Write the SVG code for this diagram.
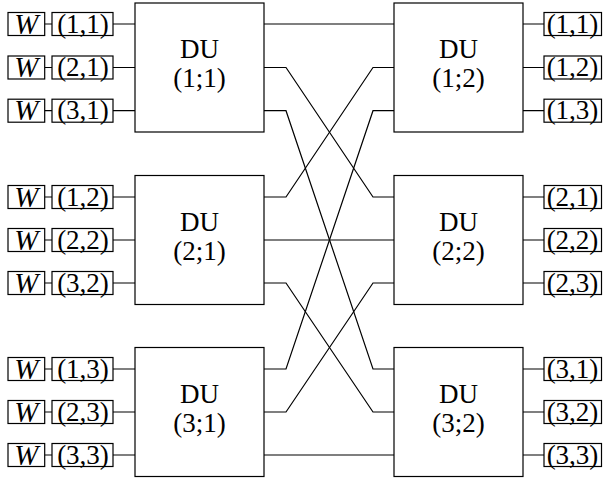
<svg xmlns="http://www.w3.org/2000/svg" width="603" height="481" viewBox="0 0 603 481">
  <style>
    .box { fill: #fff; stroke: #000; stroke-width: 1.2; }
    .wire { fill: none; stroke: #000; stroke-width: 1.2; }
    text { font-family: "Liberation Serif", "Times New Roman", serif; font-size: 27px; fill: #000; text-anchor: middle; }
    .lbl { font-size: 27px; }
    .w { font-style: italic; font-size: 29px; }
  </style>
  <rect width="603" height="481" fill="#fff"/>

  <!-- connectors: short stubs and the butterfly between the two stages -->
  <g id="connectors" class="wire">
    <!-- stubs W -> input label -> left DU -->
    <path d="M44.7 24H52M113 24H135M44.7 67.5H52M113 67.5H135M44.7 110.7H52M113 110.7H135"/>
    <path d="M44.7 197H52M113 197H135M44.7 240H52M113 240H135M44.7 283H52M113 283H135"/>
    <path d="M44.7 369H52M113 369H135M44.7 412H52M113 412H135M44.7 455H52M113 455H135"/>
    <!-- stubs right DU -> output label -->
    <path d="M523 24H544M523 67.5H544M523 110.7H544"/>
    <path d="M523 197H544M523 240H544M523 283H544"/>
    <path d="M523 369H544M523 412H544M523 455H544"/>
    <!-- straight links -->
    <path d="M264 24H394M264 240H394M264 455H394"/>
    <!-- crossing links -->
    <path d="M264 67.5H286L373 197H394"/>
    <path d="M264 110.7H286L373 369H394"/>
    <path d="M264 197H286L373 67.5H394"/>
    <path d="M264 283H286L373 412H394"/>
    <path d="M264 369H286L373 110.7H394"/>
    <path d="M264 412H286L373 283H394"/>
  </g>

  <!-- first stage -->
  <g id="du-1-1">
    <rect class="box" x="135" y="3" width="129" height="129"/>
    <text x="199.5" y="58">DU</text>
    <text x="199.5" y="87">(1;1)</text>
  </g>
  <g id="du-2-1">
    <rect class="box" x="135" y="175.5" width="129" height="129"/>
    <text x="199.5" y="230.5">DU</text>
    <text x="199.5" y="259.5">(2;1)</text>
  </g>
  <g id="du-3-1">
    <rect class="box" x="135" y="347.5" width="129" height="129"/>
    <text x="199.5" y="402.5">DU</text>
    <text x="199.5" y="431.5">(3;1)</text>
  </g>

  <!-- second stage -->
  <g id="du-1-2">
    <rect class="box" x="394" y="3" width="129" height="129"/>
    <text x="458.5" y="58">DU</text>
    <text x="458.5" y="87">(1;2)</text>
  </g>
  <g id="du-2-2">
    <rect class="box" x="394" y="175.5" width="129" height="129"/>
    <text x="458.5" y="230.5">DU</text>
    <text x="458.5" y="259.5">(2;2)</text>
  </g>
  <g id="du-3-2">
    <rect class="box" x="394" y="347.5" width="129" height="129"/>
    <text x="458.5" y="402.5">DU</text>
    <text x="458.5" y="431.5">(3;2)</text>
  </g>

  <!-- W sources -->
  <g id="w-sources">
    <rect class="box" x="8" y="12.5" width="36.7" height="23"/>
    <rect class="box" x="8" y="56" width="36.7" height="23"/>
    <rect class="box" x="8" y="99.2" width="36.7" height="23"/>
    <rect class="box" x="8" y="185.5" width="36.7" height="23"/>
    <rect class="box" x="8" y="228.5" width="36.7" height="23"/>
    <rect class="box" x="8" y="271.5" width="36.7" height="23"/>
    <rect class="box" x="8" y="357.5" width="36.7" height="23"/>
    <rect class="box" x="8" y="400.5" width="36.7" height="23"/>
    <rect class="box" x="8" y="443.5" width="36.7" height="23"/>
    <text class="w" x="26.3" y="33.5">W</text>
    <text class="w" x="26.3" y="77">W</text>
    <text class="w" x="26.3" y="120.2">W</text>
    <text class="w" x="26.3" y="206.5">W</text>
    <text class="w" x="26.3" y="249.5">W</text>
    <text class="w" x="26.3" y="292.5">W</text>
    <text class="w" x="26.3" y="378.5">W</text>
    <text class="w" x="26.3" y="421.5">W</text>
    <text class="w" x="26.3" y="464.5">W</text>
  </g>

  <!-- input labels -->
  <g id="inputs">
    <rect class="box" x="52" y="12.5" width="61" height="23"/>
    <rect class="box" x="52" y="56" width="61" height="23"/>
    <rect class="box" x="52" y="99.2" width="61" height="23"/>
    <rect class="box" x="52" y="185.5" width="61" height="23"/>
    <rect class="box" x="52" y="228.5" width="61" height="23"/>
    <rect class="box" x="52" y="271.5" width="61" height="23"/>
    <rect class="box" x="52" y="357.5" width="61" height="23"/>
    <rect class="box" x="52" y="400.5" width="61" height="23"/>
    <rect class="box" x="52" y="443.5" width="61" height="23"/>
    <text class="lbl" x="83" y="32.5">(1,1)</text>
    <text class="lbl" x="83" y="76">(2,1)</text>
    <text class="lbl" x="83" y="119.2">(3,1)</text>
    <text class="lbl" x="83" y="205.5">(1,2)</text>
    <text class="lbl" x="83" y="248.5">(2,2)</text>
    <text class="lbl" x="83" y="291.5">(3,2)</text>
    <text class="lbl" x="83" y="377.5">(1,3)</text>
    <text class="lbl" x="83" y="420.5">(2,3)</text>
    <text class="lbl" x="83" y="463.5">(3,3)</text>
  </g>

  <!-- output labels -->
  <g id="outputs">
    <rect class="box" x="544" y="12.5" width="57.5" height="23"/>
    <rect class="box" x="544" y="56" width="57.5" height="23"/>
    <rect class="box" x="544" y="99.2" width="57.5" height="23"/>
    <rect class="box" x="544" y="185.5" width="57.5" height="23"/>
    <rect class="box" x="544" y="228.5" width="57.5" height="23"/>
    <rect class="box" x="544" y="271.5" width="57.5" height="23"/>
    <rect class="box" x="544" y="357.5" width="57.5" height="23"/>
    <rect class="box" x="544" y="400.5" width="57.5" height="23"/>
    <rect class="box" x="544" y="443.5" width="57.5" height="23"/>
    <text class="lbl" x="572.5" y="32.5">(1,1)</text>
    <text class="lbl" x="572.5" y="76">(1,2)</text>
    <text class="lbl" x="572.5" y="119.2">(1,3)</text>
    <text class="lbl" x="572.5" y="205.5">(2,1)</text>
    <text class="lbl" x="572.5" y="248.5">(2,2)</text>
    <text class="lbl" x="572.5" y="291.5">(2,3)</text>
    <text class="lbl" x="572.5" y="377.5">(3,1)</text>
    <text class="lbl" x="572.5" y="420.5">(3,2)</text>
    <text class="lbl" x="572.5" y="463.5">(3,3)</text>
  </g>
</svg>
